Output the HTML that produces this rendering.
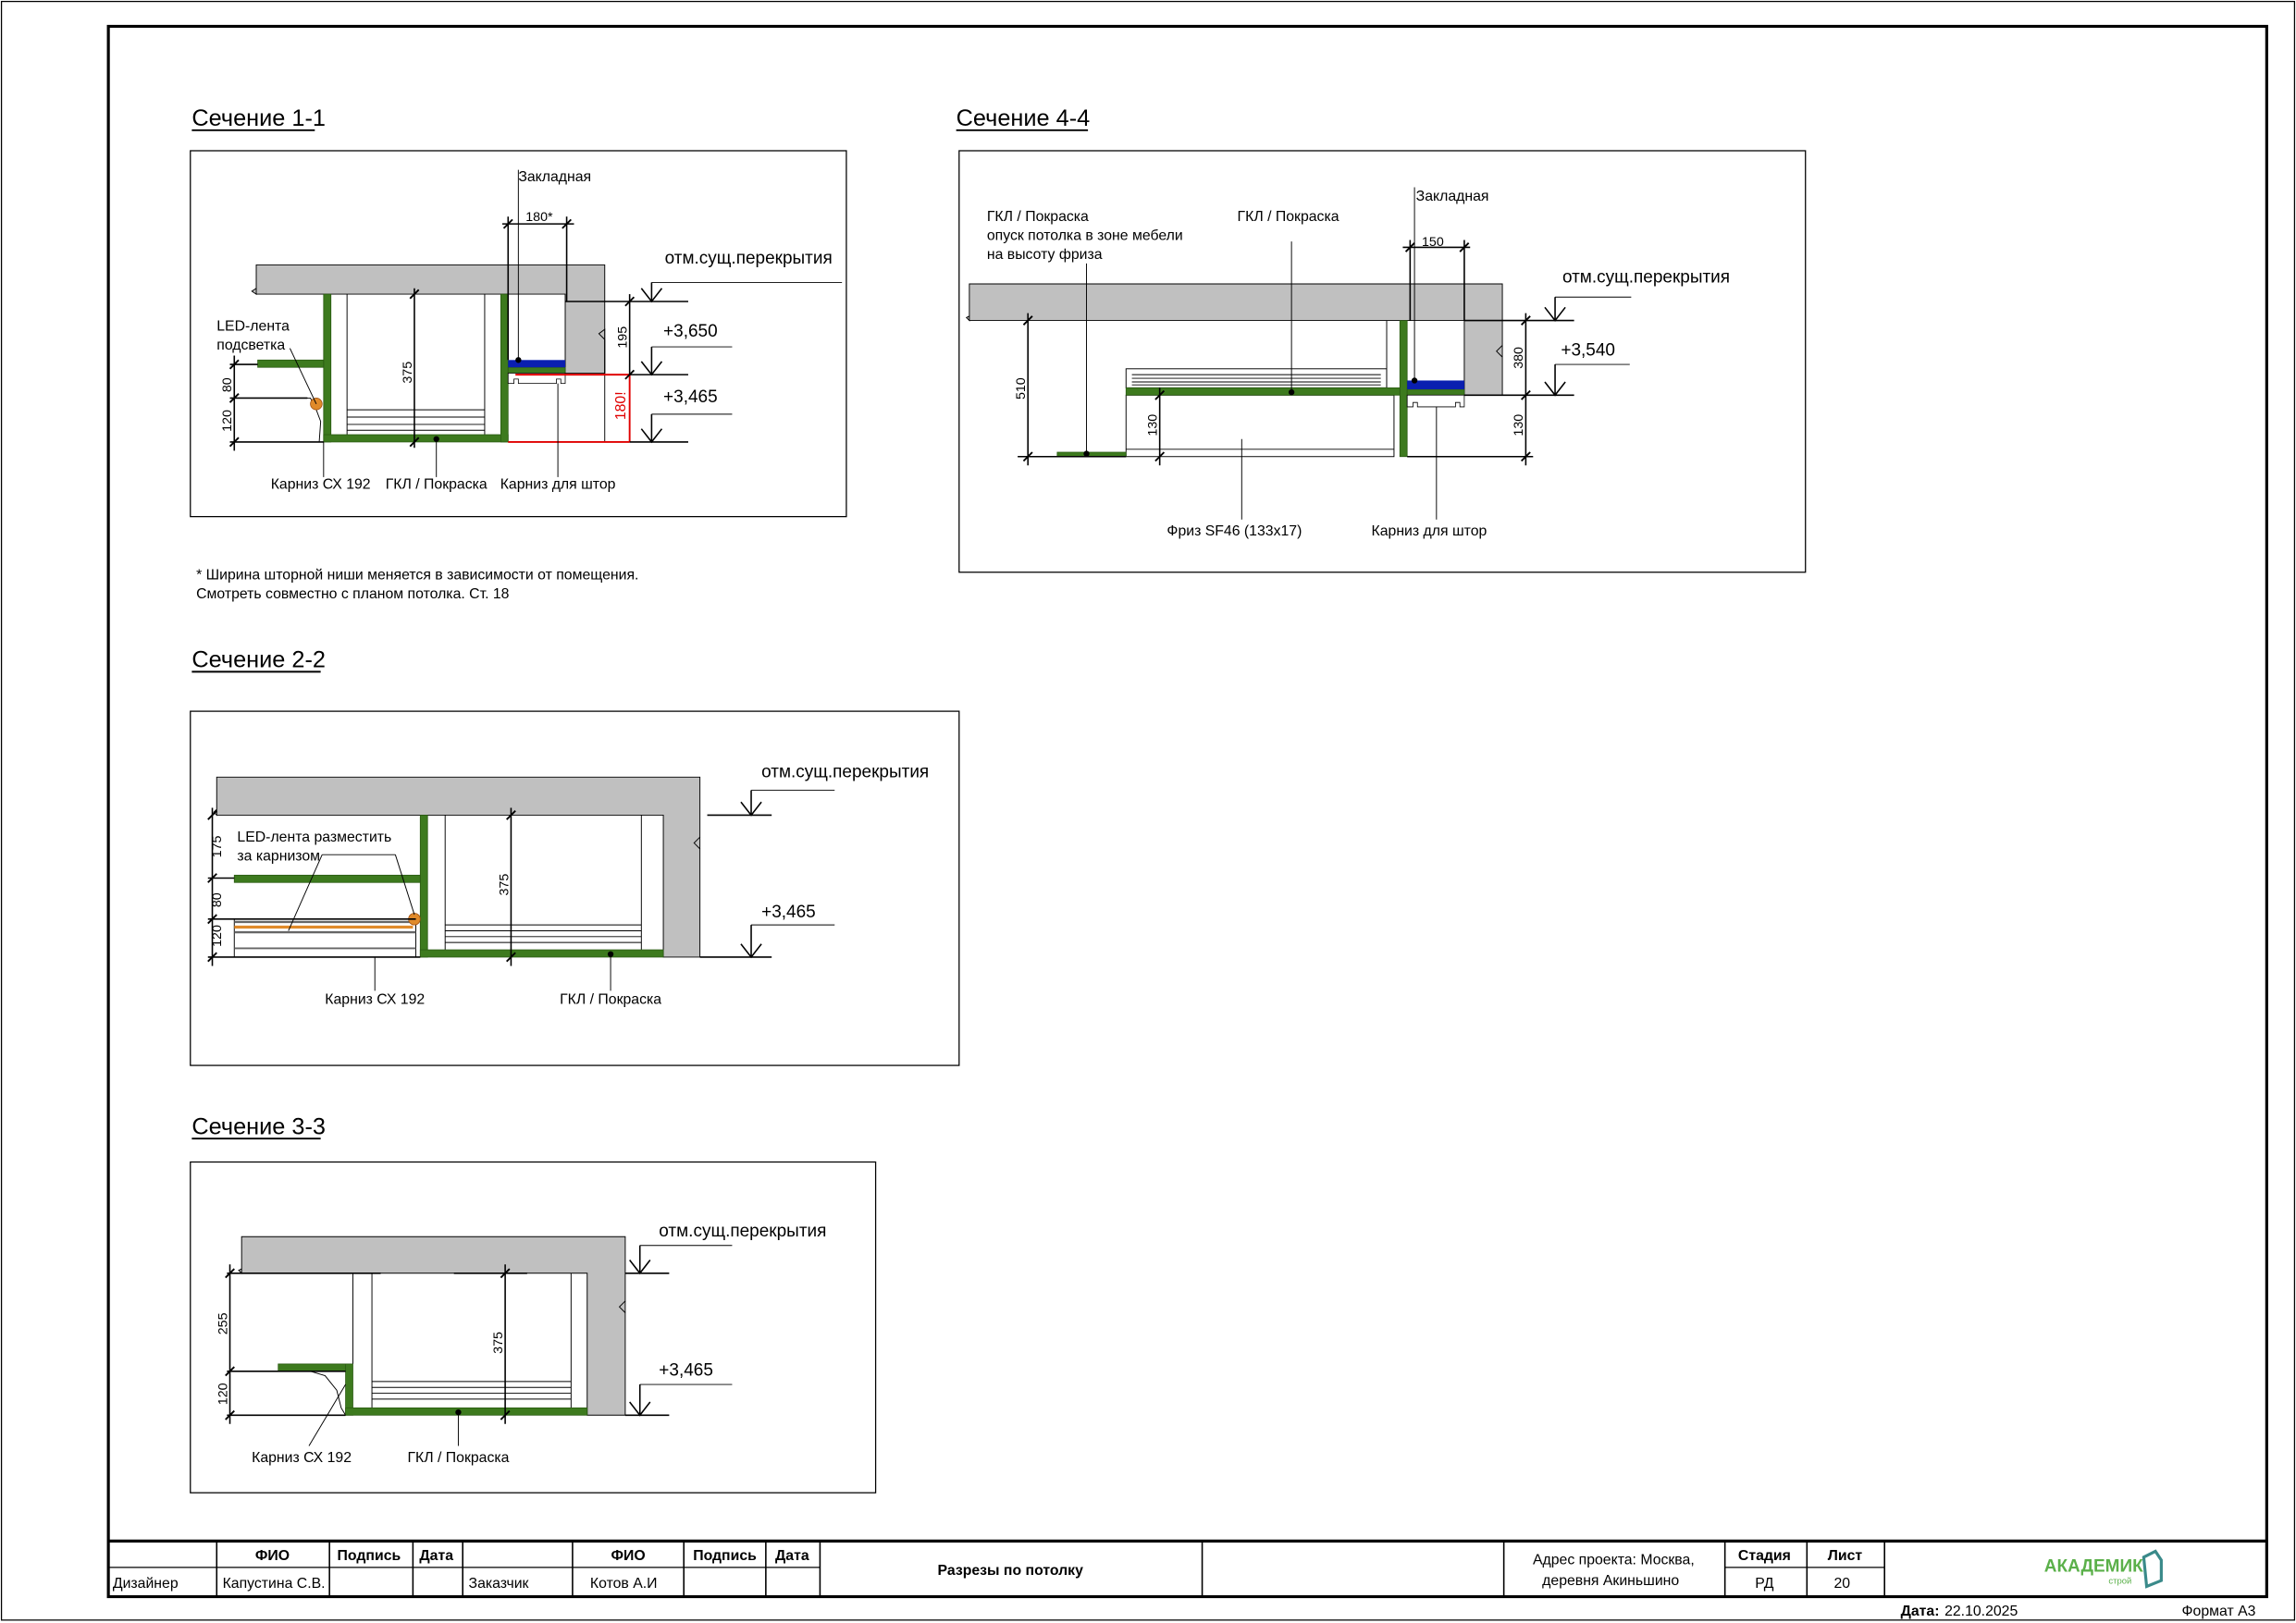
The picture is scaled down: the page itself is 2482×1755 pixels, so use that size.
<!DOCTYPE html>
<html><head><meta charset="utf-8"><style>
html,body{margin:0;padding:0;background:#fff}
svg{display:block}
text{font-family:"Liberation Sans Narrow","Liberation Sans","DejaVu Sans",sans-serif;fill:#000}
</style></head><body>
<svg width="2482" height="1755" viewBox="0 0 1568 1109" preserveAspectRatio="none" xmlns="http://www.w3.org/2000/svg">
<rect x="0" y="0" width="1568" height="1109" fill="#fff"/>
<rect x="1" y="1" width="1566" height="1106" fill="none" stroke="#000" stroke-width="0.8"/>
<rect x="74" y="18" width="1474" height="1073" fill="none" stroke="#000" stroke-width="2"/>

<!-- Titles -->
<g font-size="16">
<text x="131" y="86">Сечение 1-1</text><line x1="131" y1="89" x2="215" y2="89" stroke="#000" stroke-width="1.2"/>
<text x="653" y="86">Сечение 4-4</text><line x1="653" y1="89" x2="743" y2="89" stroke="#000" stroke-width="1.2"/>
<text x="131" y="456">Сечение 2-2</text><line x1="131" y1="459" x2="219" y2="459" stroke="#000" stroke-width="1.2"/>
<text x="131" y="775">Сечение 3-3</text><line x1="131" y1="778" x2="219" y2="778" stroke="#000" stroke-width="1.2"/>
</g>

<!-- ============ SECTION 1-1 ============ -->
<rect x="130" y="103" width="448" height="250" fill="none" stroke="#000" stroke-width="0.8"/>
<g stroke="#000" stroke-width="0.6">
<path d="M175,181 H413 V255 H386 V201 H175 V197 L172,199 L175,201 Z" fill="#c0c0c0"/>
<path d="M413,255 V225 L409,228 L413,232" fill="none"/>
<line x1="413" y1="232" x2="413" y2="302"/>
<line x1="237" y1="201" x2="237" y2="297"/><line x1="331" y1="201" x2="331" y2="297"/>
<line x1="237" y1="280" x2="331" y2="280"/><line x1="237" y1="285" x2="331" y2="285"/><line x1="237" y1="290" x2="331" y2="290"/><line x1="237" y1="294" x2="331" y2="294"/>
</g>
<g fill="#3d7a1e" stroke="#2a5a12" stroke-width="0.5">
<rect x="221" y="201" width="5" height="101"/>
<rect x="221" y="297" width="126" height="5"/>
<rect x="342" y="201" width="5" height="101"/>
<rect x="176" y="246" width="45" height="5"/>
<rect x="347" y="251" width="39" height="4"/>
</g>
<rect x="347" y="246" width="39" height="5" fill="#0a1fb0"/>
<path d="M347,255 H386 V262 H383 V259 H380 V262 H354 V259 H351 V262 H347 Z" fill="#fff" stroke="#000" stroke-width="0.5"/>
<path d="M202,272 L212,272 L216,280 L219,288 L218,302" fill="none" stroke="#000" stroke-width="0.6"/>
<circle cx="216" cy="276" r="4" fill="#e08a2a" stroke="#a05010" stroke-width="0.5"/>
<g stroke="#e00000" stroke-width="1.2">
<line x1="352" y1="256" x2="430" y2="256"/><line x1="347" y1="302" x2="430" y2="302"/><line x1="430" y1="256" x2="430" y2="302"/>
</g>
<text x="0" y="0" font-size="10" fill="#e00000" style="fill:#e00000" transform="translate(427,287) rotate(-90)">180!</text>
<g stroke="#000" stroke-width="1" fill="none">
<line x1="386" y1="206" x2="470" y2="206"/><line x1="430" y1="256" x2="470" y2="256"/><line x1="430" y1="302" x2="470" y2="302"/>
<line x1="430" y1="201" x2="430" y2="256"/>
<line x1="445" y1="193" x2="445" y2="206"/><path d="M438,197 L445,206 L452,197"/><line x1="445" y1="193" x2="575" y2="193" stroke-width="0.6"/>
<line x1="445" y1="237" x2="445" y2="256"/><path d="M438,247 L445,256 L452,247"/><line x1="445" y1="237" x2="500" y2="237" stroke-width="0.6"/>
<line x1="445" y1="283" x2="445" y2="302"/><path d="M438,293 L445,302 L452,293"/><line x1="445" y1="283" x2="500" y2="283" stroke-width="0.6"/>
<line x1="157" y1="249" x2="176" y2="249"/><line x1="157" y1="272" x2="210" y2="272"/><line x1="157" y1="302" x2="221" y2="302"/>
<line x1="160" y1="243" x2="160" y2="308"/>
<line x1="283" y1="197" x2="283" y2="306"/>
<line x1="343" y1="153" x2="392" y2="153"/>
<line x1="347" y1="148" x2="347" y2="246"/><line x1="387" y1="148" x2="387" y2="206"/>
<line x1="354" y1="116" x2="354" y2="246" stroke-width="0.6"/>
<line x1="221" y1="302" x2="221" y2="326" stroke-width="0.6"/><line x1="298" y1="300" x2="298" y2="326" stroke-width="0.6"/><line x1="381" y1="262" x2="381" y2="326" stroke-width="0.6"/>
<line x1="198" y1="238" x2="216" y2="276" stroke-width="0.6"/>
</g>
<g stroke="#000" stroke-width="1.2">
<path d="M157,252 l6,-6 M157,275 l6,-6 M157,305 l6,-6 M280,204 l6,-6 M280,305 l6,-6 M344,156 l6,-6 M384,156 l6,-6 M427,209 l6,-6 M427,259 l6,-6"/>
</g>
<circle cx="354" cy="246" r="2" fill="#000"/><circle cx="298" cy="300" r="2" fill="#000"/>
<g font-size="10">
<text x="354" y="124">Закладная</text>
<text x="359" y="151" font-size="9">180*</text>
<text x="454" y="180" font-size="12">отм.сущ.перекрытия</text>
<text x="453" y="230" font-size="12">+3,650</text>
<text x="453" y="275" font-size="12">+3,465</text>
<text x="148" y="226">LED-лента</text>
<text x="148" y="239">подсветка</text>
<text transform="translate(428,238) rotate(-90)" font-size="9">195</text>
<text transform="translate(158,268) rotate(-90)" font-size="9">80</text>
<text transform="translate(158,295) rotate(-90)" font-size="9">120</text>
<text transform="translate(281,262) rotate(-90)" font-size="9">375</text>
<text x="219" y="334" text-anchor="middle">Карниз СХ 192</text>
<text x="298" y="334" text-anchor="middle">ГКЛ / Покраска</text>
<text x="381" y="334" text-anchor="middle">Карниз для штор</text>
<text x="134" y="396">* Ширина шторной ниши меняется в зависимости от помещения.</text>
<text x="134" y="409">Смотреть совместно с планом потолка. Ст. 18</text>
</g>

<!-- ============ SECTION 4-4 ============ -->
<rect x="655" y="103" width="578" height="288" fill="none" stroke="#000" stroke-width="0.8"/>
<g stroke="#000" stroke-width="0.6">
<path d="M662,194 H1026 V270 H1000 V219 H662 V216 L660,217 L662,219 Z" fill="#c0c0c0"/>
<path d="M1026,236 L1022,240 L1026,244" fill="none"/>
<rect x="769" y="252" width="178" height="13" fill="#fff"/>
<line x1="773" y1="256" x2="943" y2="256"/><line x1="773" y1="258.5" x2="943" y2="258.5"/><line x1="773" y1="261" x2="943" y2="261"/><line x1="773" y1="263" x2="943" y2="263"/>
<rect x="769" y="270" width="183" height="42" fill="#fff"/>
<line x1="769" y1="307" x2="952" y2="307"/>
<line x1="947" y1="219" x2="947" y2="265"/>
</g>
<g fill="#3d7a1e" stroke="#2a5a12" stroke-width="0.5">
<rect x="956" y="219" width="5" height="93"/>
<rect x="769" y="265" width="187" height="5"/>
<rect x="722" y="309" width="47" height="3"/>
<rect x="961" y="266" width="39" height="4"/>
</g>
<rect x="961" y="260" width="39" height="6" fill="#0a1fb0"/>
<path d="M961,270 H1000 V278 H997 V275 H994 V278 H968 V275 H965 V278 H961 Z" fill="#fff" stroke="#000" stroke-width="0.5"/>
<g stroke="#000" stroke-width="1" fill="none">
<line x1="1000" y1="219" x2="1075" y2="219"/><line x1="1000" y1="270" x2="1075" y2="270"/><line x1="961" y1="312" x2="1047" y2="312"/>
<line x1="695" y1="312" x2="769" y2="312"/>
<line x1="702" y1="214" x2="702" y2="318"/><line x1="792" y1="265" x2="792" y2="318"/>
<line x1="1042" y1="214" x2="1042" y2="318"/>
<line x1="1062" y1="203" x2="1062" y2="219"/><path d="M1055,210 L1062,219 L1069,210"/><line x1="1062" y1="203" x2="1114" y2="203" stroke-width="0.6"/>
<line x1="1062" y1="249" x2="1062" y2="270"/><path d="M1055,261 L1062,270 L1069,261"/><line x1="1062" y1="249" x2="1113" y2="249" stroke-width="0.6"/>
<line x1="958" y1="169" x2="1004" y2="169"/>
<line x1="963" y1="164" x2="963" y2="219"/><line x1="1000" y1="164" x2="1000" y2="219"/>
<line x1="966" y1="128" x2="966" y2="260" stroke-width="0.6"/>
<line x1="882" y1="165" x2="882" y2="268" stroke-width="0.6"/>
<line x1="742" y1="180" x2="742" y2="310" stroke-width="0.6"/>
<line x1="848" y1="300" x2="848" y2="355" stroke-width="0.6"/>
<line x1="981" y1="278" x2="981" y2="355" stroke-width="0.6"/>
</g>
<g stroke="#000" stroke-width="1.2">
<path d="M699,222 l6,-6 M699,315 l6,-6 M789,273 l6,-6 M789,315 l6,-6 M1039,222 l6,-6 M1039,273 l6,-6 M1039,315 l6,-6 M960,172 l6,-6 M997,172 l6,-6"/>
</g>
<circle cx="966" cy="260" r="2" fill="#000"/><circle cx="882" cy="268" r="2" fill="#000"/><circle cx="742" cy="310" r="2" fill="#000"/>
<g font-size="10">
<text x="674" y="151">ГКЛ / Покраска</text>
<text x="674" y="164">опуск потолка в зоне мебели</text>
<text x="674" y="177">на высоту фриза</text>
<text x="845" y="151">ГКЛ / Покраска</text>
<text x="967" y="137">Закладная</text>
<text x="971" y="168" font-size="9">150</text>
<text x="1067" y="193" font-size="12">отм.сущ.перекрытия</text>
<text x="1066" y="243" font-size="12">+3,540</text>
<text transform="translate(700,273) rotate(-90)" font-size="9">510</text>
<text transform="translate(790,298) rotate(-90)" font-size="9">130</text>
<text transform="translate(1040,252) rotate(-90)" font-size="9">380</text>
<text transform="translate(1040,298) rotate(-90)" font-size="9">130</text>
<text x="843" y="366" text-anchor="middle">Фриз SF46 (133x17)</text>
<text x="976" y="366" text-anchor="middle">Карниз для штор</text>
</g>

<!-- ============ SECTION 2-2 ============ -->
<rect x="130" y="486" width="525" height="242" fill="none" stroke="#000" stroke-width="0.8"/>
<g stroke="#000" stroke-width="0.6">
<path d="M148,531 H478 V654 H453 V557 H148 V553 L146,555 L148,557 Z" fill="#c0c0c0"/>
<path d="M478,572 L474,576 L478,580" fill="none"/>
<line x1="304" y1="557" x2="304" y2="649"/><line x1="438" y1="557" x2="438" y2="649"/>
<line x1="304" y1="632" x2="438" y2="632"/><line x1="304" y1="636" x2="438" y2="636"/><line x1="304" y1="640" x2="438" y2="640"/><line x1="304" y1="644" x2="438" y2="644"/>
<rect x="160" y="628" width="124" height="26" fill="#fff"/>
<line x1="160" y1="630" x2="280" y2="630" stroke="#666" stroke-width="1.5"/>
<line x1="160" y1="637" x2="284" y2="637" stroke="#666" stroke-width="1.5"/>
<line x1="160" y1="648" x2="284" y2="648" stroke="#666" stroke-width="1.2"/>
</g>
<line x1="160" y1="633.5" x2="282" y2="633.5" stroke="#e08a2a" stroke-width="2"/>
<g fill="#3d7a1e" stroke="#2a5a12" stroke-width="0.5">
<rect x="287" y="557" width="5" height="97"/>
<rect x="287" y="649" width="166" height="5"/>
<rect x="160" y="598" width="127" height="5"/>
</g>
<circle cx="283" cy="628" r="4" fill="#e08a2a" stroke="#a05010" stroke-width="0.5"/>
<g stroke="#000" stroke-width="1" fill="none">
<line x1="483" y1="557" x2="527" y2="557"/><line x1="478" y1="654" x2="527" y2="654"/>
<line x1="513" y1="540" x2="513" y2="557"/><path d="M506,548 L513,557 L520,548"/><line x1="513" y1="540" x2="570" y2="540" stroke-width="0.6"/>
<line x1="513" y1="632" x2="513" y2="654"/><path d="M506,645 L513,654 L520,645"/><line x1="513" y1="632" x2="570" y2="632" stroke-width="0.6"/>
<line x1="145" y1="552" x2="145" y2="660"/>
<line x1="142" y1="600" x2="160" y2="600"/><line x1="142" y1="628" x2="284" y2="628"/><line x1="142" y1="654" x2="287" y2="654"/>
<line x1="349" y1="552" x2="349" y2="660"/>
<line x1="220" y1="584" x2="270" y2="584" stroke-width="0.6"/><line x1="270" y1="584" x2="283" y2="625" stroke-width="0.6"/><line x1="220" y1="584" x2="197" y2="636" stroke-width="0.6"/>
<line x1="256" y1="654" x2="256" y2="677" stroke-width="0.6"/><line x1="417" y1="652" x2="417" y2="677" stroke-width="0.6"/>
</g>
<g stroke="#000" stroke-width="1.2">
<path d="M142,560 l6,-6 M142,603 l6,-6 M142,631 l6,-6 M142,657 l6,-6 M346,560 l6,-6 M346,657 l6,-6"/>
</g>
<circle cx="417" cy="652" r="2" fill="#000"/>
<g font-size="10">
<text x="162" y="575">LED-лента разместить</text>
<text x="162" y="588">за карнизом</text>
<text x="520" y="531" font-size="12">отм.сущ.перекрытия</text>
<text x="520" y="627" font-size="12">+3,465</text>
<text transform="translate(151,586) rotate(-90)" font-size="9">175</text>
<text transform="translate(151,620) rotate(-90)" font-size="9">80</text>
<text transform="translate(151,647) rotate(-90)" font-size="9">120</text>
<text transform="translate(347,612) rotate(-90)" font-size="9">375</text>
<text x="256" y="686" text-anchor="middle">Карниз СХ 192</text>
<text x="417" y="686" text-anchor="middle">ГКЛ / Покраска</text>
</g>

<!-- ============ SECTION 3-3 ============ -->
<rect x="130" y="794" width="468" height="226" fill="none" stroke="#000" stroke-width="0.8"/>
<g stroke="#000" stroke-width="0.6">
<path d="M165,845 H427 V967 H401 V870 H165 V867 L163,868 L165,870 Z" fill="#c0c0c0"/>
<path d="M427,889 L423,893 L427,897" fill="none"/>
<line x1="241" y1="870" x2="241" y2="932"/><line x1="254" y1="870" x2="254" y2="962"/><line x1="390" y1="870" x2="390" y2="962"/>
<line x1="254" y1="944" x2="390" y2="944"/><line x1="254" y1="948" x2="390" y2="948"/><line x1="254" y1="952" x2="390" y2="952"/><line x1="254" y1="956" x2="390" y2="956"/>
<path d="M212,937 L222,940 L230,950 L233,962 L236,967" fill="none"/>
</g>
<g fill="#3d7a1e" stroke="#2a5a12" stroke-width="0.5">
<rect x="236" y="932" width="5" height="35"/>
<rect x="236" y="962" width="165" height="5"/>
<rect x="190" y="932" width="46" height="5"/>
</g>
<g stroke="#000" stroke-width="1" fill="none">
<line x1="155" y1="870" x2="260" y2="870"/><line x1="310" y1="870" x2="360" y2="870"/><line x1="427" y1="870" x2="457" y2="870"/>
<line x1="155" y1="937" x2="236" y2="937"/><line x1="155" y1="967" x2="236" y2="967"/><line x1="427" y1="967" x2="457" y2="967"/>
<line x1="157" y1="864" x2="157" y2="973"/>
<line x1="345" y1="864" x2="345" y2="973"/>
<line x1="437" y1="851" x2="437" y2="870"/><path d="M430,861 L437,870 L444,861"/><line x1="437" y1="851" x2="500" y2="851" stroke-width="0.6"/>
<line x1="437" y1="946" x2="437" y2="967"/><path d="M430,958 L437,967 L444,958"/><line x1="437" y1="946" x2="500" y2="946" stroke-width="0.6"/>
<line x1="211" y1="988" x2="236" y2="946" stroke-width="0.6"/>
<line x1="313" y1="965" x2="313" y2="988" stroke-width="0.6"/>
</g>
<g stroke="#000" stroke-width="1.2">
<path d="M154,873 l6,-6 M154,940 l6,-6 M154,970 l6,-6 M342,873 l6,-6 M342,970 l6,-6"/>
</g>
<circle cx="313" cy="965" r="2" fill="#000"/>
<g font-size="10">
<text x="450" y="845" font-size="12">отм.сущ.перекрытия</text>
<text x="450" y="940" font-size="12">+3,465</text>
<text transform="translate(155,912) rotate(-90)" font-size="9">255</text>
<text transform="translate(155,960) rotate(-90)" font-size="9">120</text>
<text transform="translate(343,925) rotate(-90)" font-size="9">375</text>
<text x="206" y="999" text-anchor="middle">Карниз СХ 192</text>
<text x="313" y="999" text-anchor="middle">ГКЛ / Покраска</text>
</g>

<!-- ============ TITLE BLOCK ============ -->
<g stroke="#000" fill="none">
<line x1="74" y1="1053" x2="1548" y2="1053" stroke-width="2"/>
<line x1="74" y1="1071" x2="560" y2="1071" stroke-width="0.8"/>
<line x1="1178" y1="1071" x2="1287" y2="1071" stroke-width="0.8"/>
<g stroke-width="1">
<line x1="148" y1="1053" x2="148" y2="1091"/><line x1="225" y1="1053" x2="225" y2="1091"/><line x1="282" y1="1053" x2="282" y2="1091"/>
<line x1="316" y1="1053" x2="316" y2="1091"/><line x1="391" y1="1053" x2="391" y2="1091"/><line x1="467" y1="1053" x2="467" y2="1091"/>
<line x1="523" y1="1053" x2="523" y2="1091"/><line x1="560" y1="1053" x2="560" y2="1091"/><line x1="821" y1="1053" x2="821" y2="1091"/>
<line x1="1027" y1="1053" x2="1027" y2="1091"/><line x1="1178" y1="1053" x2="1178" y2="1091"/><line x1="1234" y1="1053" x2="1234" y2="1091"/>
<line x1="1287" y1="1053" x2="1287" y2="1091"/>
</g>
</g>
<g font-size="10">
<text x="186" y="1066" text-anchor="middle" font-weight="bold">ФИО</text>
<text x="252" y="1066" text-anchor="middle" font-weight="bold">Подпись</text>
<text x="298" y="1066" text-anchor="middle" font-weight="bold">Дата</text>
<text x="429" y="1066" text-anchor="middle" font-weight="bold">ФИО</text>
<text x="495" y="1066" text-anchor="middle" font-weight="bold">Подпись</text>
<text x="541" y="1066" text-anchor="middle" font-weight="bold">Дата</text>
<text x="77" y="1085">Дизайнер</text>
<text x="152" y="1085">Капустина С.В.</text>
<text x="320" y="1085">Заказчик</text>
<text x="403" y="1085">Котов А.И</text>
<text x="690" y="1076" text-anchor="middle" font-weight="bold">Разрезы по потолку</text>
<text x="1102" y="1069" text-anchor="middle">Адрес проекта: Москва,</text>
<text x="1100" y="1083" text-anchor="middle">деревня Акиньшино</text>
<text x="1205" y="1066" text-anchor="middle" font-weight="bold">Стадия</text>
<text x="1260" y="1066" text-anchor="middle" font-weight="bold">Лист</text>
<text x="1205" y="1085" text-anchor="middle">РД</text>
<text x="1258" y="1085" text-anchor="middle">20</text>
<text x="1298" y="1104" font-weight="bold">Дата:</text><text x="1328" y="1104">22.10.2025</text>
<text x="1490" y="1104">Формат А3</text>
</g>
<text x="1396" y="1074" font-size="12" font-weight="bold" style="fill:#5bb04a">АКАДЕМИК</text>
<text x="1440" y="1082" font-size="6" style="fill:#5bb04a">строй</text>
<path d="M1464,1064 L1472,1060 L1476,1066 L1476,1080 L1466,1084 Z" fill="none" stroke="#3a8a8a" stroke-width="2"/>
</svg>
</body></html>
